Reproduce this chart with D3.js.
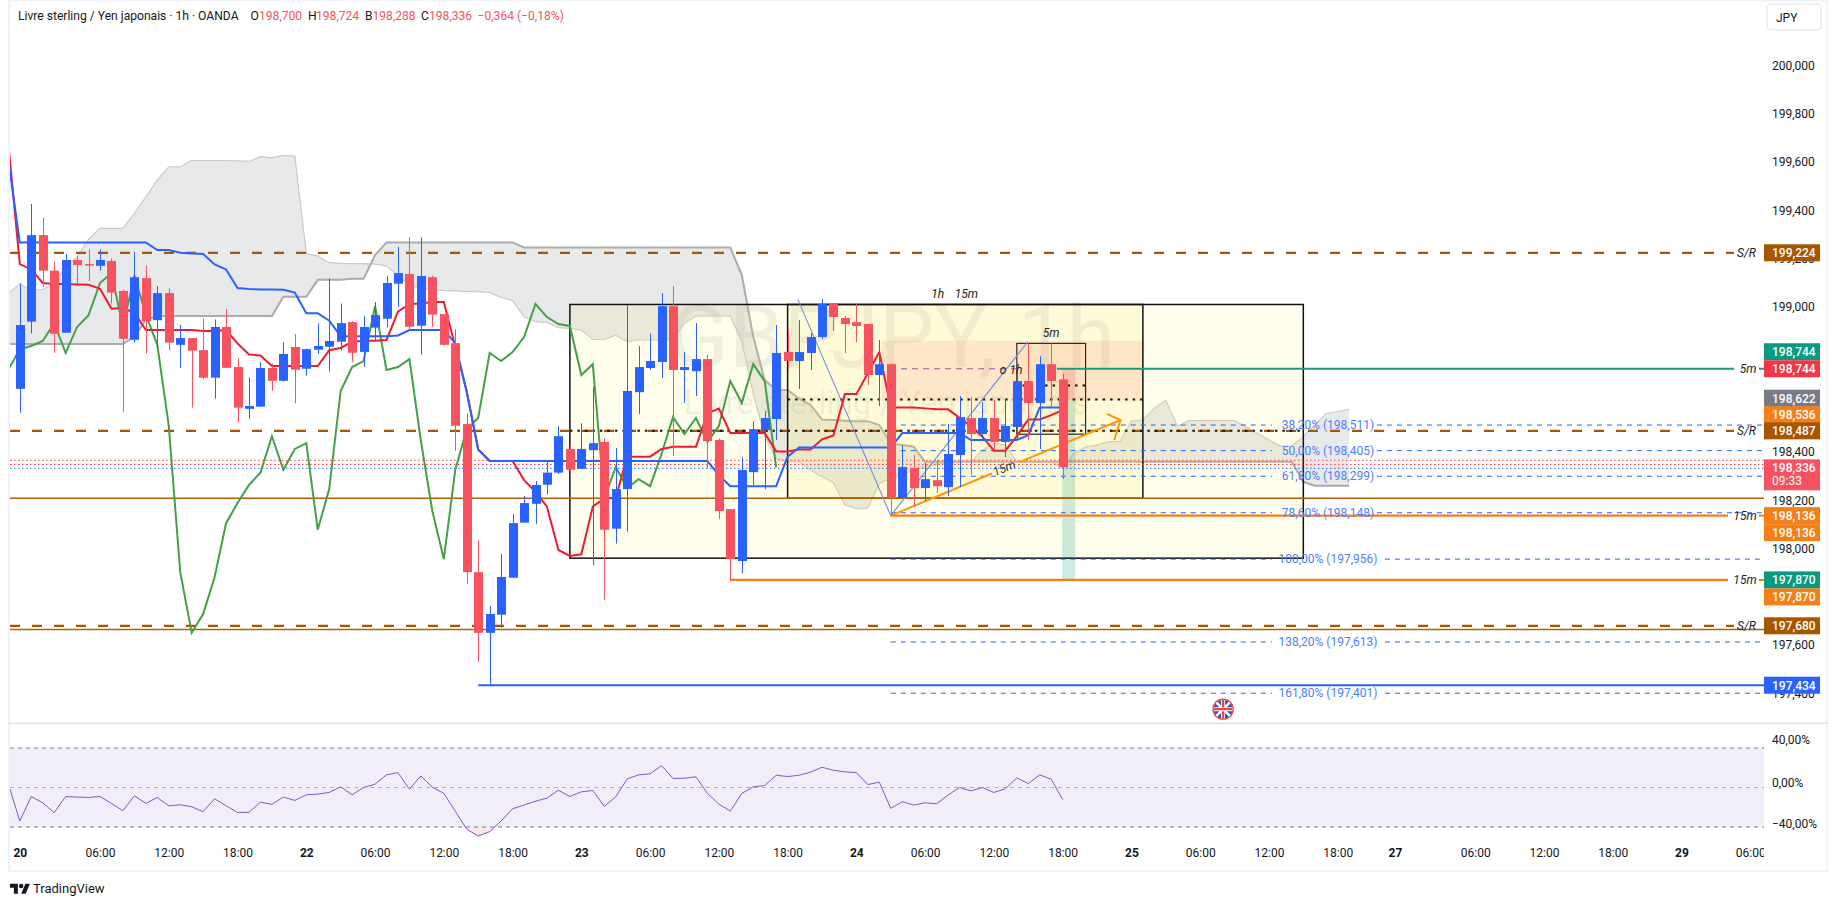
<!DOCTYPE html>
<html><head><meta charset="utf-8">
<script src="https://cdn.jsdelivr.net/npm/d3@7/dist/d3.min.js"></script>
<style>
html,body{margin:0;padding:0;background:#fff;overflow:hidden}
svg{display:block}
text{font-family:Roboto,"Noto Sans",sans-serif}
</style></head><body><svg id="c" width="1835" height="906"></svg>
<script>
// ---------- DATA ----------
const opens=[198.661,198.939,199.297,199.150,198.893,199.194,199.177,199.170,199.190,199.066,198.864,199.119,198.945,199.057,198.843,198.871,198.821,198.707,198.917,198.751,198.578,198.587,198.747,198.694,198.834,198.744,198.823,198.835,198.856,198.937,198.814,198.914,198.951,199.096,199.136,198.922,199.123,198.970,198.850,198.515,197.902,197.651,197.726,197.879,198.107,198.185,198.264,198.314,198.412,198.330,198.407,198.441,198.082,198.246,198.647,198.747,198.772,199.003,198.739,198.734,198.784,198.449,198.163,197.948,198.316,198.490,198.536,198.813,198.776,198.809,198.875,199.016,198.954,198.937,198.929,198.718,198.763,198.209,198.333,198.250,198.283,198.254,198.387,198.540,198.474,198.540,198.441,198.503,198.693,198.602,198.763,198.700];
const highs=[199.097,199.426,199.370,199.187,199.219,199.210,199.238,199.238,199.201,199.072,199.228,199.172,199.086,199.077,198.925,198.871,198.952,198.948,198.991,198.787,198.708,198.773,198.766,198.854,198.888,198.828,198.932,199.118,199.014,198.941,198.962,199.020,199.128,199.248,199.288,199.288,199.128,198.970,198.908,198.559,198.035,197.762,197.977,198.143,198.217,198.279,198.365,198.507,198.435,198.518,198.670,198.456,198.416,199.008,198.838,198.890,199.056,199.086,198.813,198.933,198.801,198.456,198.163,198.378,198.527,198.569,198.925,198.904,198.945,198.892,199.032,199.016,198.962,199.012,198.929,198.863,198.767,198.428,198.387,198.354,198.366,198.515,198.631,198.627,198.607,198.614,198.618,198.739,198.849,198.796,198.849,198.724];
const lows=[198.562,198.890,199.081,198.810,198.893,199.097,199.107,199.150,199.014,198.566,198.852,198.807,198.831,198.819,198.748,198.583,198.700,198.620,198.748,198.521,198.537,198.587,198.653,198.690,198.601,198.715,198.805,198.732,198.819,198.773,198.752,198.863,198.915,198.999,198.904,198.802,198.917,198.839,198.405,197.853,197.531,197.435,197.672,197.879,198.107,198.102,198.223,198.308,198.311,198.330,197.931,197.787,198.020,198.069,198.556,198.739,198.705,198.384,198.602,198.631,198.332,198.122,197.865,197.898,198.263,198.246,198.449,198.739,198.660,198.739,198.867,198.900,198.809,198.854,198.676,198.590,198.138,198.209,198.173,198.194,198.229,198.217,198.254,198.304,198.449,198.407,198.378,198.449,198.449,198.412,198.587,198.288];
const closes=[198.925,199.297,199.150,198.889,199.194,199.173,199.175,199.194,199.059,198.868,199.123,198.941,199.057,198.852,198.871,198.819,198.707,198.917,198.748,198.583,198.590,198.747,198.694,198.805,198.740,198.825,198.838,198.859,198.933,198.810,198.917,198.966,199.099,199.140,198.918,199.128,198.968,198.843,198.508,197.902,197.651,197.729,197.882,198.105,198.188,198.263,198.314,198.465,198.326,198.412,198.436,198.078,198.246,198.652,198.751,198.776,199.003,198.739,198.751,198.784,198.445,198.155,197.956,198.325,198.494,198.540,198.809,198.776,198.813,198.875,199.012,198.958,198.929,198.921,198.718,198.763,198.209,198.337,198.250,198.287,198.258,198.391,198.544,198.474,198.540,198.441,198.507,198.693,198.602,198.763,198.693,198.336];
// indicator series start one bar before the first candle (index -1)
const kijun=[199.608,199.267,199.267,199.267,199.267,199.267,199.267,199.267,199.267,199.267,199.267,199.267,199.267,199.235,199.235,199.224,199.221,199.219,199.176,199.155,199.078,199.074,199.072,199.072,199.071,199.059,198.974,198.974,198.943,198.879,198.879,198.879,198.879,198.879,198.882,198.904,198.904,198.904,198.904,198.849,198.649,198.410,198.362,198.362,198.362,198.362,198.362,198.362,198.362,198.362,198.362,198.362,198.362,198.362,198.362,198.362,198.362,198.362,198.362,198.362,198.362,198.362,198.304,198.258,198.258,198.258,198.258,198.258,198.380,198.418,198.418,198.418,198.418,198.418,198.418,198.418,198.418,198.418,198.478,198.478,198.478,198.478,198.478,198.478,198.449,198.449,198.449,198.449,198.449,198.469,198.584,198.584,198.584];
const tenkan=[199.677,199.177,199.155,199.099,199.095,199.095,199.093,199.092,199.075,198.992,198.995,198.976,198.904,198.904,198.904,198.904,198.904,198.900,198.900,198.904,198.849,198.803,198.799,198.755,198.755,198.755,198.755,198.755,198.821,198.830,198.856,198.860,198.860,198.863,198.980,199.012,199.014,199.020,199.020,198.835,198.649,198.410,198.362,198.362,198.362,198.283,198.235,198.173,197.994,197.969,197.976,198.173,198.207,198.210,198.380,198.380,198.380,198.412,198.421,198.421,198.421,198.559,198.579,198.478,198.478,198.478,198.478,198.402,198.402,198.410,198.410,198.452,198.468,198.639,198.639,198.725,198.813,198.584,198.584,198.584,198.580,198.576,198.576,198.541,198.504,198.463,198.405,198.405,198.465,198.534,198.534,198.552,198.573];
const senkouA=[199.056,199.095,199.070,199.072,199.097,199.166,199.208,199.279,199.325,199.325,199.325,199.387,199.456,199.525,199.580,199.580,199.606,199.606,199.606,199.606,199.605,199.602,199.622,199.617,199.627,199.624,199.221,199.210,199.183,199.180,199.179,199.179,199.177,199.170,199.128,199.090,199.077,199.072,199.067,199.066,199.063,199.063,199.060,199.039,199.026,198.959,198.939,198.936,198.914,198.911,198.904,198.865,198.865,198.883,198.856,198.863,198.863,198.863,198.865,198.932,198.962,198.963,198.963,198.963,198.856,198.642,198.463,198.373,198.359,198.359,198.325,198.297,198.272,198.180,198.165,198.167,198.269,198.290,198.304,198.325,198.338,198.349,198.355,198.358,198.359,198.407,198.435,198.428,198.359,198.359,198.359,198.359,198.332,198.394,198.421,198.428,198.442,198.442,198.527,198.532,198.580,198.614,198.507,198.529,198.529,198.529,198.529,198.529,198.504,198.476,198.449,198.424,198.424,198.463,198.511,198.559,198.567,198.576];
const senkouB=[198.846,198.846,198.846,198.846,198.846,198.846,198.846,198.846,198.846,198.846,198.846,198.877,198.946,198.962,198.962,198.962,198.962,198.962,198.962,198.962,198.962,198.962,198.962,198.962,199.042,199.042,199.042,199.112,199.112,199.112,199.117,199.117,199.215,199.267,199.267,199.267,199.267,199.267,199.267,199.267,199.267,199.267,199.267,199.267,199.267,199.246,199.246,199.246,199.246,199.246,199.246,199.246,199.246,199.246,199.246,199.246,199.246,199.246,199.246,199.246,199.246,199.246,199.246,199.246,199.132,198.877,198.697,198.656,198.656,198.621,198.594,198.534,198.532,198.529,198.527,198.527,198.511,198.435,198.428,198.421,198.359,198.359,198.359,198.359,198.359,198.359,198.359,198.359,198.359,198.359,198.359,198.359,198.359,198.359,198.359,198.359,198.359,198.359,198.359,198.359,198.359,198.359,198.359,198.359,198.359,198.359,198.359,198.359,198.359,198.359,198.359,198.359,198.359,198.276,198.260,198.260,198.260,198.260];
const oscillator=[-1.7,-33.9,-9.1,-15.5,-25.5,-9.1,-9.7,-10.1,-9.1,-16.1,-23.5,-8.4,-16.1,-10.1,-18.5,-17.5,-19.5,-24.5,-11.4,-18.5,-25.2,-25.2,-14.8,-17.1,-9.7,-13.1,-7.4,-6.7,-5.0,0.7,-7.4,0,3.4,12.8,15.1,-1.7,11.8,0.3,-6,-23.9,-42.3,-49.1,-44.7,-33.9,-21.5,-17.8,-13.8,-10.8,-2.7,-9.1,-4.4,-3,-19.2,-9.4,8.7,12.8,13.8,22.2,9.1,9.4,10.8,-6,-16.8,-23.9,-6,0.7,2,12.4,11.1,12.4,15.5,20.5,17.5,15.8,15.1,3,5.4,-21.2,-14.4,-17.8,-15.5,-16.5,-7.7,0,-3.4,0,-5,-1.3,9.7,4,12.8,8.4,-12.1];
const priceTicks=[200,199.8,199.6,199.4,199.2,199,198.8,198.6,198.4,198.2,198,197.6,197.4];
const oscTicks=[40,0,-40];
const timeIndex=[0,7,13,19,25,31,37,43,49,55,61,67,73,79,85,91,97,103,109,115,120,127,133,139,145,151];
const timeLabels=["20","06:00","12:00","18:00","22","06:00","12:00","18:00","23","06:00","12:00","18:00","24","06:00","12:00","18:00","25","06:00","12:00","18:00","27","06:00","12:00","18:00","29","06:00"];
const fibPct=["38,20%","50,00%","61,80%","78,60%","100,00%","138,20%","161,80%"];
const fibPrice=[198.511,198.405,198.299,198.148,197.956,197.613,197.401];
const srLevels=[199.224,198.487,197.680];
const tagValues=[199.224,198.744,198.744,198.622,198.536,198.487,198.136,198.136,197.870,197.870,197.680,197.434];
const tagOffsets=[0,-1,0,0,-0.25,0,0,1,0,1,0,0];
const tagColors=["#a85500","#089981","#f23645","#787b86","#f57f17","#a85500","#f57f17","#f57f17","#089981","#f57f17","#a85500","#2962ff"];

// ---------- SCALES ----------
const W=1835,paneL=10,paneR=1764,paneT=1,paneB=722;
const x=d3.scaleLinear().domain([0,1]).range([19.8,31.26]);
const y=d3.scaleLinear().domain([199,198]).range([306.9,548.5]);
const yo=d3.scaleLinear().domain([40,-40]).range([748,827]);
const svg=d3.select("#c");
const defs=svg.append("defs");
defs.append("clipPath").attr("id","pane").append("rect").attr("x",paneL).attr("y",paneT).attr("width",paneR-paneL).attr("height",paneB-paneT);
defs.append("clipPath").attr("id","timeclip").append("rect").attr("x",paneL).attr("y",-10).attr("width",paneR-paneL).attr("height",30);
defs.append("clipPath").attr("id","below").append("rect").attr("x",paneL).attr("y",yo(-40)).attr("width",paneR-paneL).attr("height",30);
defs.append("clipPath").attr("id","flag").append("circle").attr("r",9.5);
const fmt=v=>d3.format(".3f")(v).replace(".",",");

// frame
const frame="#f0f3fa";
svg.append("rect").attr("x",8).attr("y",0).attr("width",2).attr("height",872).attr("fill",frame);
svg.append("rect").attr("x",8).attr("y",0).attr("width",1820).attr("height",1.5).attr("fill",frame);
svg.append("rect").attr("x",8).attr("y",870).attr("width",1820).attr("height",2).attr("fill",frame);
svg.append("rect").attr("x",1826).attr("y",0).attr("width",2).attr("height",872).attr("fill",frame);
svg.append("rect").attr("x",8).attr("y",722.5).attr("width",1820).attr("height",1.5).attr("fill","#e0e3eb");

const g=svg.append("g").attr("clip-path","url(#pane)");

// watermark
g.append("text").attr("x",892).attr("y",367).attr("text-anchor","middle").attr("font-size",88).attr("fill","rgba(120,123,134,0.12)").text("GBPJPY, 1h");
g.append("text").attr("x",886).attr("y",414).attr("text-anchor","middle").attr("font-size",33).attr("fill","rgba(120,123,134,0.12)").text("Livre sterling / Yen japonais");

// cloud
const cloudIdx=senkouA.map((_,k)=>k-1);
g.append("path").datum(cloudIdx)
 .attr("d",d3.area().x(i=>x(i)).y0(i=>y(senkouA[i+1])).y1(i=>y(senkouB[i+1])))
 .attr("fill","rgba(120,123,134,0.17)");
const lineOf=(arr,start)=>d3.line().x((d,k)=>x(k+start)).y(d=>y(d))(arr);
g.append("path").attr("d",lineOf(senkouA,-1)).attr("fill","none").attr("stroke","#c9cacd").attr("stroke-width",1.2);
g.append("path").attr("d",lineOf(senkouB,-1)).attr("fill","none").attr("stroke","#ababae").attr("stroke-width",2);

// boxes [left idx, right idx, top price, bottom price]
const rect=(b,fill,stroke,sw)=>g.append("rect").attr("x",x(b[0])).attr("y",y(b[2])).attr("width",x(b[1])-x(b[0])).attr("height",y(b[3])-y(b[2])).attr("fill",fill).attr("stroke",stroke||"none").attr("stroke-width",sw||0);
const boxA=[48,112,199.01,197.96], boxB=[67,98,199.01,198.208], boxR=[75.2,98,198.86,198.612], box5=[87,93,198.849,198.473];
rect(boxA,"rgba(255,235,59,0.1)");
rect(boxB,"rgba(255,235,59,0.1)");
rect(boxR,"rgba(242,54,69,0.10)");
rect(box5,"rgba(255,152,0,0.04)");
rect([90.96,92.1,198.744,198.612],"rgba(242,54,69,0.2)");
rect([90.96,92.1,198.612,197.870],"rgba(8,153,129,0.2)");
rect(boxA,"none","#111",1.5);
rect(boxB,"none","#111",1.5);
rect(box5,"none","#2a2a20",1.2);

// horizontal drawing helper
const hl=(a,b,p,c,w,dash)=>g.append("line").attr("x1",a).attr("x2",b).attr("y1",y(p)).attr("y2",y(p)).attr("stroke",c).attr("stroke-width",w).attr("stroke-dasharray",dash||null);

// thin levels
hl(paneL,paneR,198.208,"#b45f06",1.4);
hl(paneL,paneR,197.665,"#b45f06",1.4);
hl(paneL,paneR,198.365,"#f23645",1,"1.5 2.5");
hl(paneL,paneR,198.348,"#f23645",1,"1.5 2.5");
hl(paneL,paneR,198.332,"#2962ff",1,"1.5 2.5");

// fib levels
fibPrice.forEach((p,k)=>{
  const cx=x(114.15), halfR=k<4?49:57;
  hl(x(76),cx-56,p,"#2962ff",1,"5 5");
  hl(cx+halfR,paneR,p,"#2962ff",1,"5 5");
  svg.append("text").attr("x",cx).attr("y",y(p)+4).attr("text-anchor","middle").attr("font-size",12).attr("fill","#4d7eff").text(fibPct[k]+" ("+fmt(p)+")");
});

// S/R lines
srLevels.forEach(p=>hl(paneL,1734,p,"#a85500",2.2,"10 12"));
// black dotted
hl(x(48),x(112),198.487,"#111",2,"2.5 5");
hl(x(67),x(98),198.617,"#111",2,"2.5 5");
hl(x(87.5),x(93),198.675,"#111",2,"2.5 5");
hl(x(76.9),x(87),198.744,"#a0509f",1.2,"6 5");

// solid drawing lines
hl(x(76),1728,198.136,"#f57f17",2.2);
hl(x(62),1728,197.870,"#f57f17",2.2);
hl(x(90.5),1734,198.744,"#1c9a7d",2.2);
hl(x(40),paneR,197.434,"#2962ff",2.2);
[198.744,198.136,197.870].forEach(d=>hl(1759,1764,d,d==198.744?"#1c9a7d":"#f57f17",2));

// thin fib trend
const trendI=[67.9,76,87.95], trendP=[199.03,198.136,198.855];
g.append("path").attr("d",d3.line().x((d,k)=>x(d)).y((d,k)=>y(trendP[k]))(trendI)).attr("fill","none").attr("stroke","#6f8fe0").attr("stroke-width",1.1);

// orange arrow with a gap for its label
const arrowA=[76,198.136], arrowB=[96.05,198.532];
const lerp=t=>[arrowA[0]+(arrowB[0]-arrowA[0])*t,arrowA[1]+(arrowB[1]-arrowA[1])*t];
[[0,0.44],[0.56,1]].forEach(s=>{
  const a=lerp(s[0]),b=lerp(s[1]);
  g.append("line").attr("x1",x(a[0])).attr("y1",y(a[1])).attr("x2",x(b[0])).attr("y2",y(b[1])).attr("stroke","#ff9800").attr("stroke-width",2);
});
g.append("path").attr("d",d3.line().x(d=>x(d[0])).y(d=>y(d[1]))([[94.85,198.557],arrowB,[95.5,198.449]])).attr("fill","none").attr("stroke","#ff9800").attr("stroke-width",2);
const m=lerp(0.5);
svg.append("text").attr("transform",`translate(${x(m[0])},${y(m[1])+4}) rotate(-22.6)`).attr("text-anchor","middle").attr("font-size",12).attr("font-style","italic").attr("fill","#333").text("15m");

// ichimoku lines
g.append("path").attr("d",lineOf(closes.slice(24),-1)).attr("fill","none").attr("stroke","#43a047").attr("stroke-width",2);
g.append("path").attr("d",lineOf(tenkan,-1)).attr("fill","none").attr("stroke","#f01a30").attr("stroke-width",2);
g.append("path").attr("d",lineOf(kijun,-1)).attr("fill","none").attr("stroke","#2962ff").attr("stroke-width",2);

// candles
const idx=d3.range(closes.length);
const col=i=>closes[i]>=opens[i]?"#2962ff":"#f7525f";
g.selectAll(".w").data(idx).join("line").attr("x1",i=>Math.round(x(i))+.5).attr("x2",i=>Math.round(x(i))+.5).attr("y1",i=>y(highs[i])).attr("y2",i=>y(lows[i])).attr("stroke",col).attr("stroke-width",1);
g.selectAll(".b").data(idx).join("rect").attr("x",i=>Math.round(x(i))+.5-4.5).attr("width",9).attr("y",i=>y(Math.max(opens[i],closes[i]))).attr("height",i=>Math.max(1.5,Math.abs(y(opens[i])-y(closes[i])))).attr("fill",col);

// italic labels
const it=(xx,yy,t,anchor)=>svg.append("text").attr("x",xx).attr("y",yy).attr("text-anchor",anchor||"middle").attr("font-size",12).attr("font-style","italic").attr("fill","#222").text(t);
it(x(80.1),298,"1h"); it(x(82.6),298,"15m"); it(x(90),337,"5m"); it(x(86.5),374,"o 1h");
srLevels.forEach(p=>it(1746.5,y(p)+4,"S/R"));
it(1748,y(198.744)+4,"5m"); it(1745,y(198.136)+4,"15m"); it(1745,y(197.870)+4,"15m");

// event flag
const fl=g.append("g").attr("transform",`translate(${x(105)},${y(197.335)})`);
fl.append("circle").attr("r",10).attr("fill","#fff").attr("stroke","#f23645").attr("stroke-width",1.4);
const fg=fl.append("g").attr("clip-path","url(#flag)");
fg.append("circle").attr("r",9.5).attr("fill","#2f55a4");
[[-10,-10,10,10],[-10,10,10,-10]].forEach(d=>fg.append("line").attr("x1",d[0]).attr("y1",d[1]).attr("x2",d[2]).attr("y2",d[3]).attr("stroke","#fff").attr("stroke-width",2.6));
[[0,-10,0,10],[-10,0,10,0]].forEach(d=>{fg.append("line").attr("x1",d[0]).attr("y1",d[1]).attr("x2",d[2]).attr("y2",d[3]).attr("stroke","#fff").attr("stroke-width",4);fg.append("line").attr("x1",d[0]).attr("y1",d[1]).attr("x2",d[2]).attr("y2",d[3]).attr("stroke","#e8404f").attr("stroke-width",2.2);});

// price axis
const axR=svg.append("g").attr("transform","translate(1763,0)").call(d3.axisRight(y).tickValues(priceTicks).tickFormat(fmt).tickSize(0).tickPadding(9));
axR.select(".domain").remove();
axR.selectAll("text").attr("font-size",12).attr("fill","#131722").style("font-family","Roboto");

// price tags
tagValues.forEach((p,k)=>{
  const cy=y(p)+tagOffsets[k]*17;
  svg.append("rect").attr("x",1764).attr("y",cy-8.5).attr("width",56).attr("height",17).attr("fill",tagColors[k]);
  svg.append("text").attr("x",1772).attr("y",cy+4.3).attr("font-size",12).attr("fill","#fff").attr("font-weight",500).text(fmt(p));
});
const lastY=y(closes[closes.length-1]);
svg.append("rect").attr("x",1764).attr("y",lastY-8).attr("width",56).attr("height",31).attr("fill","#f7525f");
svg.append("text").attr("x",1772).attr("y",lastY+4.3).attr("font-size",12).attr("fill","#fff").attr("font-weight",500).text(fmt(closes[closes.length-1]));
svg.append("text").attr("x",1772).attr("y",lastY+18).attr("font-size",12).attr("fill","#fff").text("09:33");

// currency button
svg.append("rect").attr("x",1767).attr("y",4).attr("width",54).attr("height",26).attr("rx",4).attr("fill","#fff").attr("stroke","#e8eaf0").attr("stroke-width",1.5);
svg.append("text").attr("x",1776).attr("y",22).attr("font-size",12).attr("fill","#131722").text("JPY");

// oscillator pane
svg.append("rect").attr("x",paneL).attr("y",yo(40)).attr("width",paneR-paneL).attr("height",yo(-40)-yo(40)).attr("fill","rgba(126,87,194,0.1)");
[[40,"#787b86"],[0,"#b5b1bd"],[-40,"#787b86"]].forEach(d=>svg.append("line").attr("x1",paneL).attr("x2",paneR).attr("y1",yo(d[0])).attr("y2",yo(d[0])).attr("stroke",d[1]).attr("stroke-width",1).attr("stroke-dasharray","4 4"));
svg.append("path").attr("clip-path","url(#below)").attr("d",d3.area().x((d,k)=>x(k-1)).y0(yo(-40)).y1(d=>yo(d))(oscillator)).attr("fill","rgba(242,54,69,0.12)");
svg.append("g").attr("clip-path","url(#pane2)").append("path").attr("d",d3.line().x((d,k)=>Math.max(paneL,x(k-1))).y(d=>yo(d))(oscillator)).attr("fill","none").attr("stroke","#7e57c2").attr("stroke-width",1);
const axO=svg.append("g").attr("transform","translate(1763,0)").call(d3.axisRight(yo).tickValues(oscTicks).tickFormat(v=>d3.format(".2f")(v).replace(".",",").replace("-","\u2212")+"%").tickSize(0).tickPadding(9));
axO.select(".domain").remove();
axO.selectAll("text").attr("font-size",12).attr("fill","#131722").style("font-family","Roboto");
axO.selectAll("text").attr("dy",(d)=>d===40?"-0.35em":d===0?"-0.1em":"0.05em");

// time axis
const axT=svg.append("g").attr("clip-path","url(#timeclip)").attr("transform","translate(0,848)").call(d3.axisBottom(x).tickValues(timeIndex).tickFormat((d,k)=>timeLabels[k]).tickSize(0).tickPadding(0));
axT.select(".domain").remove();
axT.selectAll("text").attr("font-size",12).attr("fill","#131722").style("font-family","Roboto").attr("font-weight",(d,k)=>timeLabels[k].length<3?700:400);

// legend
const seg=[["Livre sterling / Yen japonais \u00b7 1h \u00b7 OANDA","#131722",18],["O","#131722",250.5],["198,700","#f7525f",259],["H","#131722",308],["198,724","#f7525f",316],["B","#131722",365],["198,288","#f7525f",372.5],["C","#131722",421],["198,336","#f7525f",429],["\u22120,364 (\u22120,18%)","#f7525f",477.5]];
seg.forEach(s=>svg.append("text").attr("x",s[2]).attr("y",19.5).attr("font-size",12.1).attr("fill",s[1]).text(s[0]));

// logo
const lg=svg.append("g").attr("transform","translate(10,881.5) scale(0.56)");
lg.append("path").attr("d","M14 22H7V11H0V4h14v18zM28 22h-8l7.5-18h8L28 22z").attr("fill","#131722");
lg.append("circle").attr("cx",20).attr("cy",8).attr("r",4).attr("fill","#131722");
svg.append("text").attr("x",33).attr("y",892.5).attr("font-size",13).attr("fill","#131722").text("TradingView");
</script></body></html>
